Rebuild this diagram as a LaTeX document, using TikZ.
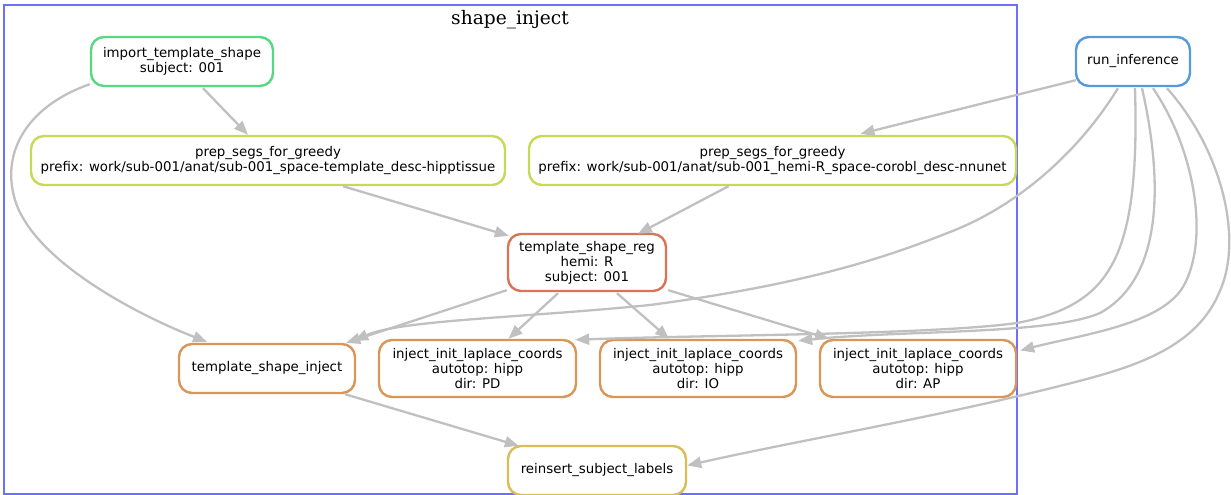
\documentclass[tikz,border=0pt]{standalone}
\usepackage{fontspec}
\setmainfont{DejaVu Sans}
\newfontfamily\clusterfont{DejaVu Serif}
\usetikzlibrary{arrows.meta,calc}
\definecolor{cgreen}{RGB}{87,217,130}
\definecolor{cyellowgreen}{RGB}{200,217,87}
\definecolor{cblue}{RGB}{87,154,217}
\definecolor{cred}{RGB}{217,117,87}
\definecolor{corange}{RGB}{217,150,87}
\definecolor{cyellow}{RGB}{217,189,87}
\definecolor{edgegray}{RGB}{192,192,192}
\definecolor{clusterblue}{RGB}{110,110,255}
\tikzset{
  rulebox/.style={draw, rounded corners=13bp, line width=2.4bp, fill=white,
    align=center, inner sep=0pt, font=\fontsize{13.4}{15}\selectfont},
  conn/.style={draw=edgegray, line width=2.3bp,
    -{Triangle[length=14bp,width=11bp]}},
}
\begin{document}
\begin{tikzpicture}[x=1bp,y=-1bp]
\useasboundingbox (0,0) rectangle (1231,495);
% cluster
\draw[clusterblue, line width=1.4bp] (4,5) rectangle (1017,494);
\node[font=\clusterfont\fontsize{18.7}{20}\selectfont] (clabel) at (510,20) {shape\_inject};
% nodes
\node[rulebox, draw=cgreen, minimum width=182bp, minimum height=49bp] (imp) at (182,61.5) {import\_template\_shape\\subject: 001};
\node[rulebox, draw=cyellowgreen, minimum width=474bp, minimum height=49bp] (prepL) at (268,160.5) {prep\_segs\_for\_greedy\\prefix: work/sub-001/anat/sub-001\_space-template\_desc-hipptissue};
\node[rulebox, draw=cyellowgreen, minimum width=487bp, minimum height=49bp] (prepR) at (772.5,160.5) {prep\_segs\_for\_greedy\\prefix: work/sub-001/anat/sub-001\_hemi-R\_space-corobl\_desc-nnunet};
\node[rulebox, draw=cblue, minimum width=114bp, minimum height=49bp] (runinf) at (1133,61.5) {run\_inference};
\node[rulebox, draw=cred, minimum width=158bp, minimum height=57bp] (reg) at (587,262.5) {template\_shape\_reg\\hemi: R\\subject: 001};
\node[rulebox, draw=corange, minimum width=176bp, minimum height=49bp] (tsi) at (267,368.5) {template\_shape\_inject};
\node[rulebox, draw=corange, minimum width=197bp, minimum height=57bp] (pd) at (477.5,368.5) {inject\_init\_laplace\_coords\\autotop: hipp\\dir: PD};
\node[rulebox, draw=corange, minimum width=196bp, minimum height=57bp] (io) at (698,368.5) {inject\_init\_laplace\_coords\\autotop: hipp\\dir: IO};
\node[rulebox, draw=corange, minimum width=196bp, minimum height=57bp] (ap) at (918,368.5) {inject\_init\_laplace\_coords\\autotop: hipp\\dir: AP};
\node[rulebox, draw=cyellow, minimum width=178bp, minimum height=49bp] (reins) at (597,470.5) {reinsert\_subject\_labels};
% edges
\draw[conn] ($(imp.south)+(21,1)$) -- ($(prepL.north)+(-20,0)$);
\draw[conn] ($(imp.south west)+(0,-3)$) .. controls (30,105) and (0,150) .. (15,200)
  .. controls (35,265) and (150,320) .. ($(tsi.north)+(-60,-1)$);
\draw[conn] ($(prepL.south)+(75,0)$) -- ($(reg.north west)+(2,3)$);
\draw[conn] ($(prepR.south)+(-44,0)$) -- ($(reg.north)+(51,1)$);
\draw[conn] ($(runinf.south west)+(1,-7)$) -- ($(prepR.north)+(88,-1)$);
\draw[conn] ($(reg.south west)+(0,-2)$) -- ($(tsi.north east)+(-10,0)$);
\draw[conn] ($(reg.south)+(-29,1)$) -- ($(pd.north)+(31,0)$);
\draw[conn] ($(reg.south)+(30,1)$) -- ($(io.north)+(-29,0)$);
\draw[conn] ($(reg.south east)+(1,-2)$) -- ($(ap.north)+(-89,0)$);
\draw[conn] ($(tsi.south)+(78,0)$) -- ($(reins.north west)+(12,1)$);
% run_inference fan
\draw[conn] ($(runinf.south)+(-15,1)$) .. controls (1080,150) and (1020,205) .. (950,232)
  .. controls (880,260) and (800,285) .. (650,305)
  .. controls (520,318) and (400,320) .. ($(tsi.north east)+(-2,-2)$);
\draw[conn] ($(runinf.south)+(2,1)$) .. controls (1140,260) and (1110,305) .. (1017,323)
  .. controls (930,335) and (700,335) .. ($(pd.north east)+(-2,1)$);
\draw[conn] ($(runinf.south)+(9,1)$) .. controls (1165,190) and (1160,280) .. (1100,313)
  .. controls (1050,335) and (900,330) .. ($(io.north east)+(1,2)$);
\draw[conn] ($(runinf.south)+(20,1)$) .. controls (1195,150) and (1210,240) .. (1183,287)
  .. controls (1160,325) and (1080,335) .. ($(ap.east)+(3,-18)$);
\draw[conn] ($(runinf.south)+(34,1)$) .. controls (1222,150) and (1244,240) .. (1219,293)
  .. controls (1197,345) and (1140,365) .. (1083,380)
  .. controls (950,415) and (800,440) .. ($(reins.east)+(0,-5)$);
\end{tikzpicture}
\end{document}
